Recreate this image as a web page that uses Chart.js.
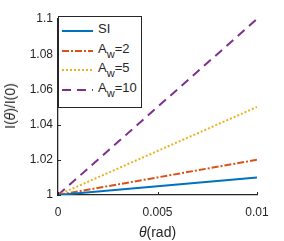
<!DOCTYPE html>
<html>
<head>
<meta charset="utf-8">
<script src="https://cdn.jsdelivr.net/npm/chart.js@4"></script>
<style>
body{margin:0;background:#fff;font-family:"Liberation Sans",Arial,sans-serif;}
#wrap{position:relative;width:284px;height:241px;}
#legend{position:absolute;left:58px;top:16px;width:84px;height:92px;border:1.3px solid #262626;background:#fff;box-sizing:border-box;}
.row{position:absolute;left:3px;height:16px;font-size:13px;color:#262626;white-space:nowrap;}
.row svg{position:absolute;left:0;top:5px;}
.row span{position:absolute;left:36px;top:-2px;}
.row sub{font-size:11px;vertical-align:-5px;line-height:0;}
.ttl{position:absolute;font-size:14px;color:#262626;white-space:nowrap;}
#xt{left:0;width:315px;text-align:center;top:224px;}
#yt{left:10px;top:106px;transform:translate(-50%,-50%) rotate(-90deg);}
</style>
</head>
<body>
<div id="wrap">
  <canvas id="c" width="284" height="241"></canvas>
  <div id="legend"></div>
  <div class="ttl" id="xt"><i>θ</i>(rad)</div>
  <div class="ttl" id="yt">I(<i>θ</i>)/I(0)</div>
</div>
<script>
// data
const thetaVals=[0,0.005,0.01];
const siVals=[1,1.005,1.01];
const aw2Vals=[1,1.01,1.02];
const aw5Vals=[1,1.025,1.05];
const aw10Vals=[1,1.05,1.1];
const xTickVals=[0,0.005,0.01];
const xTickLabels=["0","0.005","0.01"];
const yTickVals=[1,1.02,1.04,1.06,1.08,1.1];
const yTickLabels=["1","1.02","1.04","1.06","1.08","1.1"];

const series=[
  {label:"SI",html:"SI",data:siVals,color:"#0072BD",dash:[]},
  {label:"Aw=2",html:"A<sub>w</sub>=2",data:aw2Vals,color:"#D95319",dash:[7,2,2,2]},
  {label:"Aw=5",html:"A<sub>w</sub>=5",data:aw5Vals,color:"#EDB120",dash:[2,2]},
  {label:"Aw=10",html:"A<sub>w</sub>=10",data:aw10Vals,color:"#7E2F8E",dash:[9,6]}
];

const axisCol="#262626";
const fnt={family:"'Liberation Sans', Arial, sans-serif",size:12};

// inward tick marks like matlab
const inwardTicks={
  id:"inwardTicks",
  afterDraw(chart){
    const {ctx,chartArea:a,scales}=chart;
    ctx.save();
    ctx.strokeStyle=axisCol;ctx.lineWidth=1;
    ctx.beginPath();
    xTickVals.forEach(v=>{
      let px=Math.round(scales.x.getPixelForValue(v))+0.5;
      ctx.moveTo(px,a.bottom);ctx.lineTo(px,a.bottom-3);
    });
    yTickVals.forEach(v=>{
      let py=Math.round(scales.y.getPixelForValue(v))+0.5;
      ctx.moveTo(a.left,py);ctx.lineTo(a.left+3,py);
    });
    ctx.stroke();
    ctx.restore();
  }
};

new Chart(document.getElementById("c"),{
  type:"line",
  data:{
    datasets:series.map(s=>({
      label:s.label,
      data:thetaVals.map((x,i)=>({x:x,y:s.data[i]})),
      borderColor:s.color,borderWidth:2,borderDash:s.dash,
      pointRadius:0,fill:false,tension:0
    }))
  },
  options:{
    responsive:false,animation:false,
    layout:{padding:{top:19,right:27,left:0,bottom:0}},
    plugins:{legend:{display:false},tooltip:{enabled:false}},
    scales:{
      x:{
        type:"linear",min:0,max:0.01,
        afterBuildTicks:sc=>{sc.ticks=xTickVals.map(v=>({value:v}));},
        afterFit:sc=>{sc.height=46;},
        grid:{display:false,drawTicks:false},
        border:{display:true,color:axisCol,width:1.3},
        ticks:{color:axisCol,font:fnt,padding:10,maxRotation:0,
          callback:(v)=>xTickLabels[xTickVals.indexOf(v)]},
        title:{display:false}
      },
      y:{
        type:"linear",min:1,max:1.1,
        afterBuildTicks:sc=>{sc.ticks=yTickVals.map(v=>({value:v}));},
        afterFit:sc=>{sc.width=58;},
        grid:{display:false,drawTicks:false},
        border:{display:true,color:axisCol,width:1.3},
        ticks:{color:axisCol,font:fnt,padding:5,
          callback:(v)=>yTickLabels[yTickVals.indexOf(v)]},
        title:{display:false}
      }
    }
  },
  plugins:[inwardTicks]
});

// legend box
let lg=document.getElementById("legend");
series.forEach((s,i)=>{
  let d=document.createElement("div");
  d.className="row";
  d.style.top=(6+i*19.5)+"px";
  d.innerHTML=`<svg width="31" height="6"><line x1="0" y1="3" x2="31" y2="3" stroke="${s.color}" stroke-width="2" stroke-dasharray="${s.dash.join(",")||"none"}"/></svg><span>${s.html}</span>`;
  lg.appendChild(d);
});
</script>
</body>
</html>
